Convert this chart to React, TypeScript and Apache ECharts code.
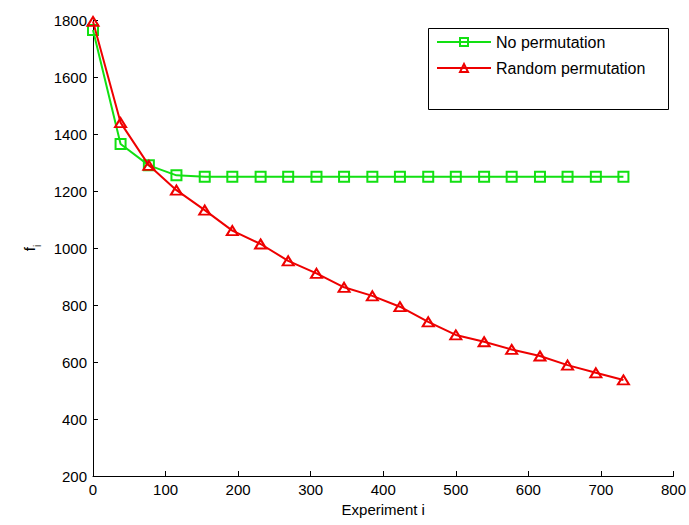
import React, { useEffect, useRef } from "react";
import * as echarts from "echarts";

const experiments = [0, 38, 77, 115, 154, 192, 231, 269, 308, 346, 385, 423, 462, 500, 539, 577, 616, 654, 693, 731];
const noPermutation = [1765, 1365, 1290, 1255, 1250, 1250, 1250, 1250, 1250, 1250, 1250, 1250, 1250, 1250, 1250, 1250, 1250, 1250, 1250, 1250];
const randomPermutation = [1795, 1440, 1290, 1203, 1133, 1061, 1014, 955, 911, 862, 832, 794, 741, 695, 671, 644, 621, 589, 562, 537];
const seriesNames = ["No permutation", "Random permutation"];

const GREEN = "#12e012";
const RED = "#ee0000";
const FONT = "Liberation Sans, Arial, sans-serif";

export default function App() {
  const ref = useRef<HTMLDivElement>(null);
  useEffect(() => {
    if (!ref.current) return;
    const chart = echarts.init(ref.current, undefined, { renderer: "svg" });
    const pair = (ys: number[]) => experiments.map((x, i) => [x, ys[i]]);
    chart.setOption({
      animation: false,
      backgroundColor: "#ffffff",
      textStyle: { fontFamily: FONT },
      grid: { left: 93, right: 13, top: 20, bottom: 49, containLabel: false },
      graphic: [
        {
          type: "rect",
          left: 428,
          top: 28,
          shape: { width: 240, height: 81 },
          style: { fill: "#ffffff", stroke: "#000000", lineWidth: 1 },
          z: 5,
        },
      ],
      legend: {
        orient: "vertical",
        left: 436,
        top: 34,
        itemWidth: 54,
        itemHeight: 10,
        itemGap: 10,
        padding: 0,
        z: 10,
        textStyle: { fontSize: 16, color: "#000", fontFamily: FONT },
        data: seriesNames,
      },
      xAxis: {
        type: "value",
        min: 0,
        max: 800,
        interval: 100,
        name: "Experiment i",
        nameLocation: "middle",
        nameGap: 24,
        nameTextStyle: { fontSize: 15, color: "#000", fontFamily: FONT },
        axisLine: { show: true, lineStyle: { color: "#000", width: 1 } },
        axisTick: { show: true, inside: true, length: 5, lineStyle: { color: "#000" } },
        axisLabel: { fontSize: 15, color: "#000", margin: 6, fontFamily: FONT, formatter: (v: number) => String(v) },
        splitLine: { show: false },
      },
      yAxis: {
        type: "value",
        min: 200,
        max: 1800,
        interval: 200,
        name: "{a|f}{b|i}",
        nameLocation: "middle",
        nameRotate: 90,
        nameGap: 56,
        nameTextStyle: {
          color: "#000",
          fontFamily: FONT,
          rich: {
            a: { fontSize: 15, color: "#000", fontFamily: FONT },
            b: { fontSize: 10, color: "#000", fontFamily: FONT, verticalAlign: "bottom", padding: [0, 0, -5, 0] },
          },
        },
        axisLine: { show: true, lineStyle: { color: "#000", width: 1 } },
        axisTick: { show: true, inside: true, length: 5, lineStyle: { color: "#000" } },
        axisLabel: { fontSize: 15, color: "#000", margin: 6, fontFamily: FONT, formatter: (v: number) => String(v) },
        splitLine: { show: false },
      },
      series: [
        {
          name: seriesNames[0],
          type: "line",
          data: pair(noPermutation),
          symbol: "rect",
          symbolSize: 10,
          lineStyle: { color: GREEN, width: 2 },
          itemStyle: { color: "rgba(255,255,255,0)", borderColor: GREEN, borderWidth: 2 },
          z: 2,
        },
        {
          name: seriesNames[1],
          type: "line",
          data: pair(randomPermutation),
          symbol: "triangle",
          symbolSize: [11, 9],
          lineStyle: { color: RED, width: 2 },
          itemStyle: { color: "rgba(255,255,255,0)", borderColor: RED, borderWidth: 2 },
          z: 3,
        },
      ],
    });
    return () => chart.dispose();
  }, []);
  return <div ref={ref} style={{ width: 689, height: 525, position: "absolute", left: 0, top: 0 }} />;
}
